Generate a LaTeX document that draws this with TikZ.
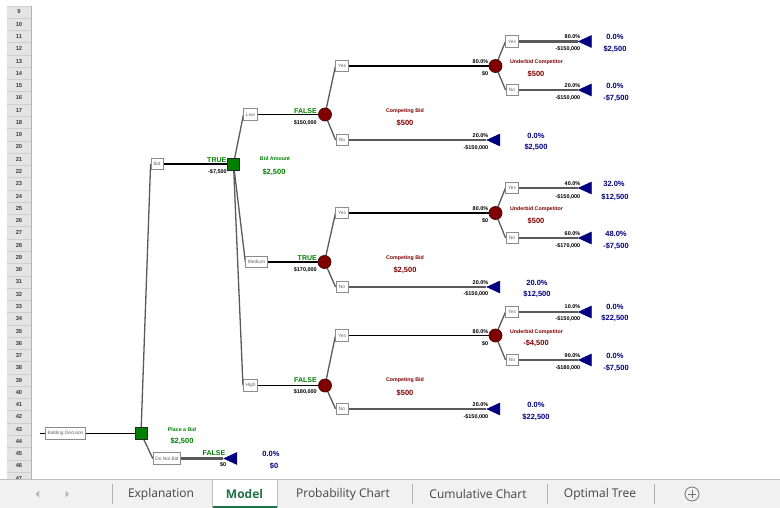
\documentclass[tikz,border=0pt]{standalone}
\usepackage{fontspec}
\setmainfont{Liberation Sans}
\newfontfamily\tabfont{Open Sans}
\usetikzlibrary{shapes.geometric}
\definecolor{dgreen}{HTML}{008000}
\definecolor{dred}{HTML}{800000}
\definecolor{navy}{HTML}{000080}
\definecolor{linegray}{HTML}{5A5A5A}
\definecolor{boxgray}{HTML}{8C8C8C}
\definecolor{hdrgray}{HTML}{E4E4E4}
\definecolor{hdrline}{HTML}{CFCFCF}
\definecolor{xlgreen}{HTML}{217346}
\definecolor{tabtext}{HTML}{444444}
\definecolor{tabbg}{HTML}{F1F1F1}
\pgfdeclarelayer{bg}
\pgfdeclarelayer{edges}
\pgfsetlayers{bg,edges,main}
\begin{document}
\begin{tikzpicture}[x=1pt,y=-1pt,
  brbox/.style={draw=boxgray, line width=0.8pt, fill=white, text=black!60,
    font=\fontsize{4.8}{5}\selectfont, minimum height=11.5pt, minimum width=12pt,
    inner xsep=2.2pt, inner ysep=0pt},
  dec/.style={rectangle, draw=black!85, fill=dgreen, minimum size=12pt, inner sep=0pt, line width=0.7pt},
  chance/.style={circle, draw=dred!55!black, fill=dred, minimum size=13pt, inner sep=0pt, line width=0.7pt},
  leaf/.style={isosceles triangle, shape border rotate=180, isosceles triangle stretches,
    minimum width=12pt, minimum height=13pt, fill=navy, draw=navy, inner sep=0pt},
  slant/.style={draw=linegray, line width=1.3pt},
  mainln/.style={draw=black, line width=1.3pt},
  leafln/.style={draw=linegray, line width=2.2pt},
  nmg/.style={font=\fontsize{5.3}{6}\selectfont\bfseries, text=dgreen, inner sep=0pt},
  nmr/.style={font=\fontsize{5.3}{6}\selectfont\bfseries, text=dred, inner sep=0pt},
  tf/.style={font=\fontsize{7}{8}\selectfont\bfseries, text=dgreen, inner sep=0pt, anchor=east},
  num/.style={font=\fontsize{5.5}{6}\selectfont\bfseries, text=black, inner sep=0pt, anchor=east},
  valg/.style={font=\fontsize{7.5}{8}\selectfont\bfseries, text=dgreen, inner sep=0pt},
  valr/.style={font=\fontsize{7.5}{8}\selectfont\bfseries, text=dred, inner sep=0pt},
  valb/.style={font=\fontsize{7.5}{8}\selectfont\bfseries, text=navy, inner sep=0pt},
  rownum/.style={font=\fontsize{5.8}{6}\selectfont\bfseries, text=black!75, inner sep=0pt},
  tab/.style={font=\tabfont\fontsize{12}{14}\selectfont, text=tabtext, inner sep=0pt},
  tabact/.style={font=\tabfont\bfseries\fontsize{12}{14}\selectfont, text=xlgreen, inner sep=0pt}
]
\useasboundingbox (0,0) rectangle (780,508);
\begin{pgfonlayer}{bg}
\fill[white] (0,0) rectangle (780,508);
\fill[hdrgray] (7,6) rectangle (31,479);
\foreach \r in {9,...,47}{
  \pgfmathsetmacro\yy{12+(\r-9)*12.27}
  \node[rownum] (row\r) at (19,\yy) {\r};
  \draw[hdrline, line width=0.6pt] (7,\yy+6.13) -- (31,\yy+6.13);
}
\draw[hdrline, line width=0.6pt] (7,5.9) -- (31,5.9);
\draw[black!30, line width=0.6pt] (31,6) -- (31,479);
\end{pgfonlayer}

% ---------- nodes ----------
\coordinate (lead) at (40,433.5);
\node[brbox] (bd) at (65.5,433.5) {Bidding Decision};
\node[dec] (d1) at (141,433.5) {};
\node[brbox] (bid) at (157,164) {Bid};
\node[brbox] (dnb) at (167,458.5) {Do Not Bid};
\node[leaf] (lfdnb) at (233,458.5) {};
\node[dec] (d2) at (233.5,164) {};
\node[brbox] (low) at (250.5,114.5) {Low};
\node[brbox] (med) at (256.5,262) {Medium};
\node[brbox] (high) at (250.5,385.5) {High};
\node[chance] (cl) at (325,114.5) {};
\node[chance] (cm) at (324.5,262) {};
\node[chance] (ch) at (325,385.5) {};
\node[brbox] (ly) at (342,66) {Yes};
\node[brbox] (ln) at (342,140) {No};
\node[brbox] (my) at (342,213) {Yes};
\node[brbox] (mn) at (342,287) {No};
\node[brbox] (hy) at (342,335.5) {Yes};
\node[brbox] (hn) at (342,409) {No};
\node[chance] (ul) at (495.5,66) {};
\node[chance] (um) at (495.5,213) {};
\node[chance] (uh) at (495.5,335.5) {};
\node[leaf] (lfln) at (496,140) {};
\node[leaf] (lfmn) at (496,287) {};
\node[leaf] (lfhn) at (496,409) {};
\node[brbox] (uly) at (512,41.5) {Yes};
\node[brbox] (uln) at (512,90) {No};
\node[brbox] (umy) at (512,188) {Yes};
\node[brbox] (umn) at (512,238) {No};
\node[brbox] (uhy) at (512,312) {Yes};
\node[brbox] (uhn) at (512,360) {No};
\node[leaf] (lfuly) at (587.5,41.5) {};
\node[leaf] (lfuln) at (587.5,90) {};
\node[leaf] (lfumy) at (587.5,188) {};
\node[leaf] (lfumn) at (587.5,238) {};
\node[leaf] (lfuhy) at (587.5,312) {};
\node[leaf] (lfuhn) at (587.5,360) {};

% ---------- connectors ----------
\begin{pgfonlayer}{edges}
\draw[mainln] (lead) -- (bd.west);
\draw[mainln] (bd.east) -- (d1.center);
\draw[slant] (d1.center) -- (bid.west);
\draw[slant] (d1.center) -- (dnb.west);
\draw[mainln] (bid.east) -- (d2.center);
\draw[leafln] (dnb.east) -- (lfdnb.apex);
\draw[slant] (d2.center) -- (low.west);
\draw[slant] (d2.center) -- (med.west);
\draw[slant] (d2.center) -- (high.west);
\draw[mainln] (low.east) -- (cl.center);
\draw[mainln] (med.east) -- (cm.center);
\draw[mainln] (high.east) -- (ch.center);
\foreach \c/\y/\n in {cl/ly/ln, cm/my/mn, ch/hy/hn}{
  \draw[slant] (\c.center) -- (\y.west);
  \draw[slant] (\c.center) -- (\n.west);
}
\draw[mainln] (ly.east) -- (ul.center);
\draw[mainln] (my.east) -- (um.center);
\draw[mainln] (hy.east) -- (uh.center);
\draw[leafln] (ln.east) -- (lfln.apex);
\draw[leafln] (mn.east) -- (lfmn.apex);
\draw[leafln] (hn.east) -- (lfhn.apex);
\foreach \c/\y/\n in {ul/uly/uln, um/umy/umn, uh/uhy/uhn}{
  \draw[slant] (\c.center) -- (\y.west);
  \draw[slant] (\c.center) -- (\n.west);
  \draw[leafln] (\y.east) -- (lf\y.apex);
  \draw[leafln] (\n.east) -- (lf\n.apex);
}
\end{pgfonlayer}

% ---------- labels ----------
\node[nmg] (tplace) at (182,430) {Place a Bid};
\node[valg] (tplacev) at (182,441) {\$2,500};
\node[tf] (tdnbf) at (225.5,453) {FALSE};
\node[num] (tdnbv) at (226.5,465) {\$0};
\node[valb] (tdnbp) at (271,454) {0.0\%};
\node[valb] (tdnbx) at (274,466) {\$0};
\node[tf] (tbidt) at (226.5,160) {TRUE};
\node[num] (tbidv) at (227,171.5) {-\$7,500};
\node[nmg] (tamt) at (275,159) {Bid Amount};
\node[valg] (tamtv) at (274,172) {\$2,500};

\node[tf] (tlowf) at (317,111) {FALSE};
\node[num] (tlowv) at (317,122.5) {\$150,000};
\node[tf] (tmedt) at (317,258) {TRUE};
\node[num] (tmedv) at (317,270) {\$170,000};
\node[tf] (thighf) at (317,380) {FALSE};
\node[num] (thighv) at (317,392) {\$180,000};

\node[nmr] (tcbl) at (405,111) {Competing Bid};
\node[valr] (tcblv) at (405,122.5) {\$500};
\node[nmr] (tcbm) at (405,258) {Competing Bid};
\node[valr] (tcbmv) at (405,270) {\$2,500};
\node[nmr] (tcbh) at (405,380) {Competing Bid};
\node[valr] (tcbhv) at (405,393) {\$500};

\node[nmr] (tubl) at (536.5,62) {Underbid Competitor};
\node[valr] (tublv) at (536,73.5) {\$500};
\node[nmr] (tubm) at (536.5,209) {Underbid Competitor};
\node[valr] (tubmv) at (536,221) {\$500};
\node[nmr] (tubh) at (536.5,332) {Underbid Competitor};
\node[valr] (tubhv) at (536,343.5) {-\$4,500};

% competing bid branches
\node[num] (bly) at (488.5,62) {80.0\%};
\node[num] (blyv) at (488.5,73.5) {\$0};
\node[num] (bln) at (488.5,136) {20.0\%};
\node[num] (blnv) at (488.5,147.5) {-\$150,000};
\node[num] (bmy) at (488.5,209) {80.0\%};
\node[num] (bmyv) at (488.5,221) {\$0};
\node[num] (bmn) at (488.5,282.5) {20.0\%};
\node[num] (bmnv) at (488.5,294) {-\$150,000};
\node[num] (bhy) at (488.5,332) {80.0\%};
\node[num] (bhyv) at (488.5,343.5) {\$0};
\node[num] (bhn) at (488.5,405) {20.0\%};
\node[num] (bhnv) at (488.5,417) {-\$150,000};

% underbid branches
\node[num] (buly) at (580.5,37) {80.0\%};
\node[num] (bulyv) at (580.5,49) {-\$150,000};
\node[num] (buln) at (580.5,86) {20.0\%};
\node[num] (bulnv) at (580.5,98) {-\$150,000};
\node[num] (bumy) at (580.5,184) {40.0\%};
\node[num] (bumyv) at (580.5,197) {-\$150,000};
\node[num] (bumn) at (580.5,233.5) {60.0\%};
\node[num] (bumnv) at (580.5,246) {-\$170,000};
\node[num] (buhy) at (580.5,306.5) {10.0\%};
\node[num] (buhyv) at (580.5,318.5) {-\$150,000};
\node[num] (buhn) at (580.5,356) {90.0\%};
\node[num] (buhnv) at (580.5,368) {-\$180,000};

% leaf values
\node[valb] (vlcp) at (536,135.5) {0.0\%};
\node[valb] (vlcv) at (536,147.5) {\$2,500};
\node[valb] (vmcp) at (537,282.5) {20.0\%};
\node[valb] (vmcv) at (537,294) {\$12,500};
\node[valb] (vhcp) at (536,405) {0.0\%};
\node[valb] (vhcv) at (536,417) {\$22,500};

\node[valb] (vlyp) at (615,37) {0.0\%};
\node[valb] (vlyv) at (615,49) {\$2,500};
\node[valb] (vlnp) at (615,86) {0.0\%};
\node[valb] (vlnv) at (616,98) {-\$7,500};
\node[valb] (vmyp) at (614,184) {32.0\%};
\node[valb] (vmyv) at (615,197) {\$12,500};
\node[valb] (vmnp) at (616,233.5) {48.0\%};
\node[valb] (vmnv) at (616,246) {-\$7,500};
\node[valb] (vhyp) at (615,306.5) {0.0\%};
\node[valb] (vhyv) at (615,318.5) {\$22,500};
\node[valb] (vhnp) at (615,356) {0.0\%};
\node[valb] (vhnv) at (616,368) {-\$7,500};

% ---------- sheet tab bar ----------
\fill[tabbg] (0,479) rectangle (780,508);
\draw[black!25, line width=0.7pt] (0,479.5) -- (780,479.5);
\fill[white] (212,479.5) rectangle (277,508);
\draw[black!25, line width=0.7pt] (212,508) -- (212,479.5) -- (277,479.5) -- (277,508);
\draw[xlgreen, line width=2pt] (212.5,506.5) -- (276.5,506.5);
\fill[black!28] (39,490.5) -- (39,497.5) -- (35.5,494) -- cycle;
\fill[black!28] (65.5,490.5) -- (65.5,497.5) -- (69,494) -- cycle;
\foreach \sx in {112,412,547,654}{
  \draw[black!30, line width=0.7pt] (\sx,484) -- (\sx,504);
}
\node[tab] (tabexp) at (161,494) {Explanation};
\node[tabact] (tabmod) at (244.5,494) {Model};
\node[tab] (tabprob) at (343,494) {Probability Chart};
\node[tab] (tabcum) at (478,494) {Cumulative Chart};
\node[tab] (tabopt) at (600,494) {Optimal Tree};
\node[circle, draw=black!55, line width=0.8pt, minimum size=14pt, inner sep=0pt] (tabadd) at (692,494) {};
\draw[black!55, line width=0.8pt] (688,494) -- (696,494) (692,490) -- (692,498);
\end{tikzpicture}
\end{document}
